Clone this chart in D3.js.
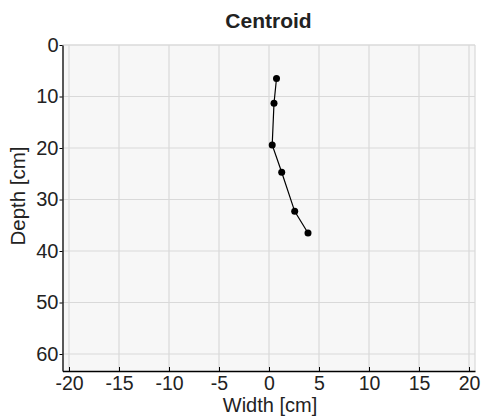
<!DOCTYPE html>
<html><head><meta charset="utf-8">
<script src="https://cdn.jsdelivr.net/npm/d3@7"></script>
<style>
html,body{margin:0;padding:0;background:#fff;}
text{font-family:"Liberation Sans",Arial,Helvetica,sans-serif;fill:#222;}
</style></head>
<body><svg id="c" width="486" height="417"></svg>
<script>
const widthCm = [0.75, 0.5, 0.32, 1.27, 2.57, 3.9];
const depthCm = [6.5, 11.3, 19.4, 24.7, 32.3, 36.5];
const xTicks = [-20, -15, -10, -5, 0, 5, 10, 15, 20];
const yTicks = [0, 10, 20, 30, 40, 50, 60];
const title = "Centroid";
const xLabel = "Width [cm]";
const yLabel = "Depth [cm]";

const svg = d3.select("#c");
const L = 62.5, R = 475, T = 45, B = 371;
const x = d3.scaleLinear().domain([-20.65, 20.6]).range([L, R]);
const y = d3.scaleLinear().domain([0, 63.3]).range([T, B]);

svg.append("rect").attr("x", L).attr("y", T).attr("width", R - L).attr("height", B - T).attr("fill", "#f7f7f7");

const grid = svg.append("g").attr("stroke", "#d9d9d9").attr("stroke-width", 1.2);
grid.selectAll(".gx").data(xTicks).join("line")
  .attr("x1", d => x(d)).attr("x2", d => x(d)).attr("y1", T).attr("y2", B);
grid.selectAll(".gy").data(yTicks).join("line")
  .attr("x1", L).attr("x2", R).attr("y1", d => y(d)).attr("y2", d => y(d));
svg.append("line").attr("x1", R).attr("x2", R).attr("y1", T).attr("y2", B).attr("stroke", "#d9d9d9").attr("stroke-width", 1.2);
svg.append("line").attr("x1", L).attr("x2", R).attr("y1", T).attr("y2", T).attr("stroke", "#d9d9d9").attr("stroke-width", 1.2);

const fmt = d => String(d);
const xAxis = d3.axisBottom(x).tickValues(xTicks).tickFormat(fmt).tickSize(-4).tickPadding(8).tickSizeOuter(0);
const gx = svg.append("g").attr("transform", `translate(0,${B})`).call(xAxis);
gx.select(".domain").attr("stroke", "#000").attr("stroke-width", 1.3);
gx.selectAll(".tick line").attr("stroke", "#000").attr("stroke-width", 1);
gx.selectAll(".tick text").attr("font-size", 19.5).attr("fill", "#222").attr("dy", "0.55em")
  .style("font-family", '"Liberation Sans",Arial,sans-serif');

const yAxis = d3.axisLeft(y).tickValues(yTicks).tickFormat(fmt).tickSize(3).tickPadding(1).tickSizeOuter(0);
const gy = svg.append("g").attr("transform", `translate(${L},0)`).call(yAxis);
gy.select(".domain").attr("stroke", "#000").attr("stroke-width", 1.3);
gy.selectAll(".tick line").attr("stroke", "#000").attr("stroke-width", 1);
gy.selectAll(".tick text").attr("font-size", 20).attr("fill", "#222")
  .style("font-family", '"Liberation Sans",Arial,sans-serif');

const pts = widthCm.map((w, i) => ({w, d: depthCm[i]}));
svg.append("path").datum(pts)
  .attr("d", d3.line().x(p => x(p.w)).y(p => y(p.d)))
  .attr("fill", "none").attr("stroke", "#000").attr("stroke-width", 1.2);
svg.selectAll(".pt").data(pts).join("circle")
  .attr("cx", p => x(p.w)).attr("cy", p => y(p.d)).attr("r", 3.5).attr("fill", "#000");

svg.append("text").attr("x", 268.5).attr("y", 28).attr("text-anchor", "middle")
  .attr("font-size", 21).attr("font-weight", "bold").text(title);
svg.append("text").attr("x", 270).attr("y", 412).attr("text-anchor", "middle")
  .attr("font-size", 20).text(xLabel);
svg.append("text").attr("transform", "translate(25,196) rotate(-90)").attr("text-anchor", "middle")
  .attr("font-size", 20.5).text(yLabel);
</script></body></html>
